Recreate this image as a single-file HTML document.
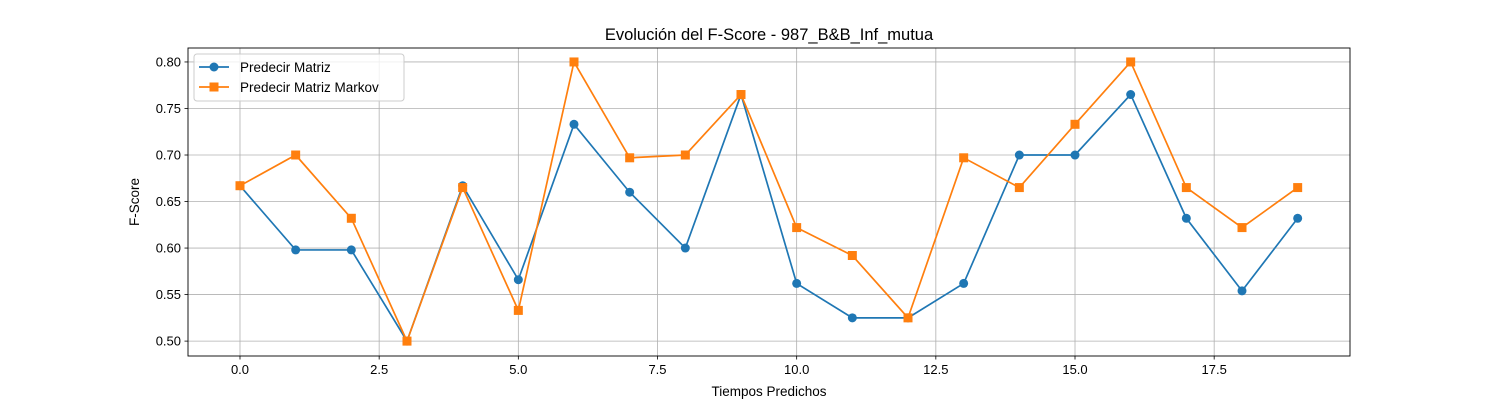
<!DOCTYPE html>
<html><head><meta charset="utf-8">
<style>
html,body{margin:0;padding:0;background:#fff;}
svg text{font-family:"Liberation Sans","DejaVu Sans",sans-serif;fill:#000;}
</style></head>
<body>
<svg id="chart" width="1500" height="400" xmlns="http://www.w3.org/2000/svg">
<rect width="1500" height="400" fill="#fff"/>
<text x="769" y="40" font-size="16.5" text-anchor="middle">Evolución del F-Score - 987_B&amp;B_Inf_mutua</text>
<g id="grid"></g>
<g id="series"></g>
<rect x="188" y="48" width="1162" height="308" fill="none" stroke="#000" stroke-width="0.9"/>
<g id="axes"></g>
<text x="769" y="396" font-size="13.5" text-anchor="middle">Tiempos Predichos</text>
<text transform="translate(139,202) rotate(-90)" font-size="13.5" text-anchor="middle">F-Score</text>
<g>
<rect x="194" y="54" width="210" height="47" rx="3" fill="#fff" fill-opacity="0.8" stroke="#ccc"/>
<line x1="199" y1="67" x2="229" y2="67" stroke="#1f77b4" stroke-width="1.7"/>
<circle cx="214" cy="67" r="4.5" fill="#1f77b4"/>
<text x="240" y="72" font-size="13.5">Predecir Matriz</text>
<line x1="199" y1="87" x2="229" y2="87" stroke="#ff7f0e" stroke-width="1.7"/>
<rect x="209.5" y="82.5" width="9" height="9" fill="#ff7f0e"/>
<text x="240" y="92" font-size="13.5">Predecir Matriz Markov</text>
</g>
</svg>
<script>
const categories = [0,1,2,3,4,5,6,7,8,9,10,11,12,13,14,15,16,17,18,19];
const matrizValues = [0.667,0.598,0.598,0.5,0.667,0.566,0.733,0.66,0.60,0.765,0.562,0.525,0.525,0.562,0.70,0.70,0.765,0.632,0.554,0.632];
const markovValues = [0.667,0.70,0.632,0.5,0.665,0.533,0.80,0.697,0.70,0.765,0.622,0.592,0.525,0.697,0.665,0.733,0.80,0.665,0.622,0.665];
const xTicks = [0,2.5,5,7.5,10,12.5,15,17.5];
const xTickLabels = ["0.0","2.5","5.0","7.5","10.0","12.5","15.0","17.5"];
const yTicks = [0.50,0.55,0.60,0.65,0.70,0.75,0.80];
const yTickLabels = ["0.50","0.55","0.60","0.65","0.70","0.75","0.80"];

const NS="http://www.w3.org/2000/svg";
const X0=188,X1=1350,Y0=48,Y1=356;
const xMin=-0.934,xMax=19.94,yMin=0.484,yMax=0.815;
const sx=v=>X0+(v-xMin)/(xMax-xMin)*(X1-X0);
const sy=v=>Y1-(v-yMin)/(yMax-yMin)*(Y1-Y0);
function mk(t,a,p){const e=document.createElementNS(NS,t);for(const k in a)e.setAttribute(k,a[k]);p.appendChild(e);return e;}
const grid=document.getElementById('grid'),axes=document.getElementById('axes'),series=document.getElementById('series');
xTicks.forEach((v,i)=>{
  const x=sx(v);
  const g=mk('line',{x1:x,x2:x,y1:Y0,y2:Y1,stroke:'#b0b0b0','stroke-width':0.8},grid);
  
  
  mk('line',{x1:x,x2:x,y1:Y1,y2:Y1+3.5,stroke:'#000','stroke-width':0.8},axes);
  const t=mk('text',{x:x,y:Y1+18,'font-size':13,'text-anchor':'middle'},axes);
  t.textContent=xTickLabels[i];
  
  
});
yTicks.forEach((v,i)=>{
  const y=sy(v);
  const g=mk('line',{x1:X0,x2:X1,y1:y,y2:y,stroke:'#b0b0b0','stroke-width':0.8},grid);
  
  
  mk('line',{x1:X0-3.5,x2:X0,y1:y,y2:y,stroke:'#000','stroke-width':0.8},axes);
  const t=mk('text',{x:X0-7,y:y+4.5,'font-size':13,'text-anchor':'end'},axes);
  t.textContent=yTickLabels[i];
  
  
});
function draw(vals,color,marker,name){
  const pts=categories.map((c,i)=>sx(c)+','+sy(vals[i])).join(' ');
  const pl=mk('polyline',{points:pts,fill:'none',stroke:color,'stroke-width':1.7},series);
  
  
  categories.forEach((c,i)=>{
    const x=sx(c),y=sy(vals[i]);
    let m;
    if(marker==='circle') m=mk('circle',{cx:x,cy:y,r:4.5,fill:color},series);
    else m=mk('rect',{x:x-4.5,y:y-4.5,width:9,height:9,fill:color},series);
    
    
  });
}
draw(matrizValues,'#1f77b4','circle','matriz');
draw(markovValues,'#ff7f0e','square','markov');
</script>
</body></html>
